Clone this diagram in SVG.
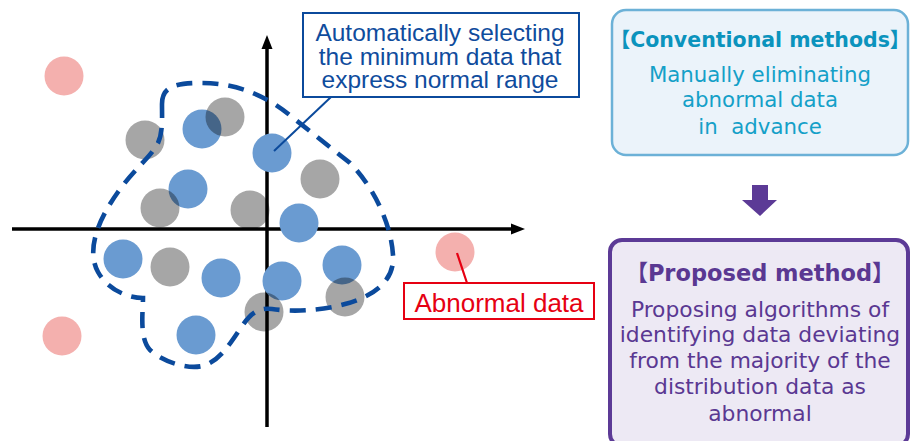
<svg xmlns="http://www.w3.org/2000/svg" width="915" height="441" viewBox="0 0 915 441">
  <style>
    .axis { stroke: #000; stroke-width: 3.5; fill: none; }
    .head { fill: #000; }
    .pt-blue { fill: #6a9bd1; }
    .pt-gray { fill: #000; fill-opacity: 0.35; }
    .pt-pink { fill: #f4b0ae; }
    .region { fill: none; stroke: #0b4a9c; stroke-width: 4.6; stroke-dasharray: 16 10; }
    .lead-blue { stroke: #0b4a9c; stroke-width: 2; }
    .lead-red { stroke: #e60012; stroke-width: 2.2; }
    .callout-box { fill: #fff; stroke: #0b4a9c; stroke-width: 2; }
    .callout-text { font-family: "Liberation Sans", Arial, sans-serif; font-size: 24.5px; fill: #0f4c9d; text-anchor: middle; }
    .abn-box { fill: #fff; stroke: #e60012; stroke-width: 2; }
    .abn-text { font-family: "Liberation Sans", Arial, sans-serif; font-size: 26px; fill: #e60012; text-anchor: middle; }
    .conv-box { fill: #ebf3fa; stroke: #6cb1d7; stroke-width: 2.5; }
    .conv-title { font-family: "DejaVu Sans", "Noto Sans CJK JP", sans-serif; font-weight: bold; font-size: 20.5px; fill: #0b93bd; text-anchor: middle; }
    .conv-text { font-family: "DejaVu Sans", sans-serif; font-size: 21.3px; fill: #14a0c8; text-anchor: middle; white-space: pre; }
    .prop-box { fill: #ede9f4; stroke: #5c3a96; stroke-width: 4; }
    .prop-title { font-family: "DejaVu Sans", "Noto Sans CJK JP", sans-serif; font-weight: bold; font-size: 22.5px; fill: #5a3892; text-anchor: middle; }
    .prop-text { font-family: "DejaVu Sans", sans-serif; font-size: 21.8px; fill: #5a3892; text-anchor: middle; }
    .down { fill: #5c3a96; }
  </style>

  <!-- coordinate axes -->
  <g id="axes">
    <line class="axis" x1="12" y1="229" x2="513" y2="229"/>
    <polygon class="head" points="511,223.5 525,229 511,234.5"/>
    <line class="axis" x1="267" y1="427" x2="267" y2="47"/>
    <polygon class="head" points="261.5,49 267,35 272.5,49"/>
  </g>

  <!-- outlying points -->
  <g id="outliers">
    <circle class="pt-pink" cx="64" cy="76" r="19.5"/>
    <circle class="pt-pink" cx="455" cy="252" r="19.5"/>
    <circle class="pt-pink" cx="62" cy="336" r="19.5"/>
  </g>

  <!-- selected points -->
  <g id="selected">
    <circle class="pt-blue" cx="202" cy="129" r="19.5"/>
    <circle class="pt-blue" cx="272" cy="153" r="19.5"/>
    <circle class="pt-blue" cx="188" cy="189" r="19.5"/>
    <circle class="pt-blue" cx="299" cy="223" r="19.5"/>
    <circle class="pt-blue" cx="123" cy="259" r="19.5"/>
    <circle class="pt-blue" cx="221" cy="278" r="19.5"/>
    <circle class="pt-blue" cx="282" cy="281" r="19.5"/>
    <circle class="pt-blue" cx="342" cy="265" r="19.5"/>
    <circle class="pt-blue" cx="196" cy="335" r="19.5"/>
  </g>

  <!-- remaining points -->
  <g id="others">
    <circle class="pt-gray" cx="145" cy="140" r="19.5"/>
    <circle class="pt-gray" cx="225" cy="117" r="19.5"/>
    <circle class="pt-gray" cx="160" cy="208" r="19.5"/>
    <circle class="pt-gray" cx="250" cy="210" r="19.5"/>
    <circle class="pt-gray" cx="320" cy="179" r="19.5"/>
    <circle class="pt-gray" cx="170" cy="267" r="19.5"/>
    <circle class="pt-gray" cx="264" cy="312" r="19.5"/>
    <circle class="pt-gray" cx="345" cy="297" r="19.5"/>
  </g>

  <!-- normal range outline -->
  <g id="normal-range">
    <path class="region" d="M 162,104 C 162,89 171,83 200,83 C 232,83 262,92 292,117 L 350,163 C 372,185 391,222 393,255 C 395,280 375,296 345,304 C 320,311 292,312 272,309 C 255,307 248,317 238,332 C 228,347 220,358 208,364 C 192,372 163,362 150,350 C 139,338 143,312 143,298 C 128,298 108,290 98,272 C 86,250 98,220 118,192 C 135,168 150,158 158,143 C 163,132 162,118 162,104 Z"/>
  </g>

  <!-- connectors -->
  <g id="connectors">
    <line class="lead-blue" x1="274" y1="151" x2="331" y2="97"/>
    <line class="lead-red" x1="457" y1="253" x2="467" y2="283"/>
    <polygon class="down" points="752,185 768,185 768,200 777,200 760,216 742,200 752,200"/>
  </g>

  <!-- callout: selection -->
  <g id="callout-selection">
    <rect class="callout-box" x="303" y="13" width="276" height="84"/>
    <text class="callout-text" x="440" y="41">Automatically selecting</text>
    <text class="callout-text" x="440" y="65">the minimum data that</text>
    <text class="callout-text" x="440" y="88">express normal range</text>
  </g>

  <!-- callout: abnormal data -->
  <g id="callout-abnormal">
    <rect class="abn-box" x="404" y="283" width="190" height="36"/>
    <text class="abn-text" x="499" y="312">Abnormal data</text>
  </g>

  <!-- conventional methods -->
  <g id="conventional">
    <rect class="conv-box" x="612" y="10" width="296" height="145" rx="14"/>
    <text class="conv-title" x="760" y="47">【Conventional methods】</text>
    <text class="conv-text" x="760" y="82">Manually eliminating</text>
    <text class="conv-text" x="760" y="107">abnormal data</text>
    <text class="conv-text" x="760" y="134">in  advance</text>
  </g>

  <!-- proposed method -->
  <g id="proposed">
    <rect class="prop-box" x="610" y="240" width="298" height="206" rx="12"/>
    <text class="prop-title" x="760" y="281">【Proposed method】</text>
    <text class="prop-text" x="760" y="317">Proposing algorithms of</text>
    <text class="prop-text" x="760" y="342">identifying data deviating</text>
    <text class="prop-text" x="760" y="368">from the majority of the</text>
    <text class="prop-text" x="760" y="394">distribution data as</text>
    <text class="prop-text" x="760" y="421">abnormal</text>
  </g>
</svg>
